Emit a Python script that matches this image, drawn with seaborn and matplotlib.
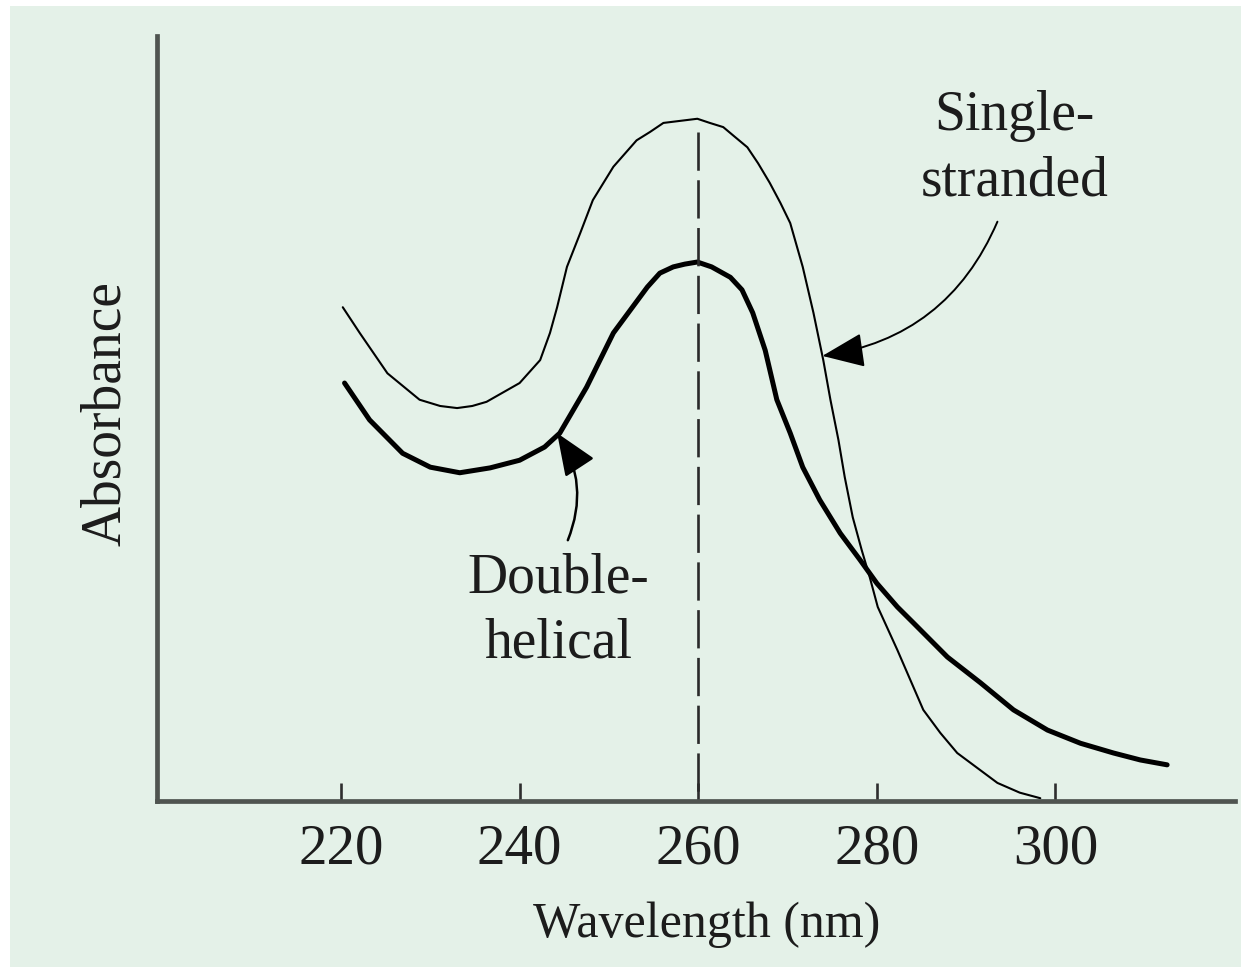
import numpy as np
import pandas as pd
import matplotlib
matplotlib.use('Agg')
import matplotlib.pyplot as plt
import seaborn as sns
from matplotlib.patches import Rectangle, ArrowStyle


# values (arbitrary absorbance units)
wavelength_ss = [220.2, 222.1, 225.2, 228.8, 231.1, 233.0, 234.7, 236.3, 240.0, 242.3,
                 243.4, 244.2, 245.3, 246.8, 248.2, 250.5, 253.1, 254.6, 256.1, 258.0,
                 259.9, 261.3, 262.8, 264.1, 265.5, 266.7, 268.0, 269.2, 270.3, 271.7,
                 272.9, 274.0, 274.8, 275.7, 276.4, 277.3, 278.3, 279.2, 280.1, 282.3,
                 285.2, 287.1, 289.0, 293.5, 296.0, 298.3]
absorb_ss = [0.710, 0.673, 0.615, 0.577, 0.568, 0.565, 0.568, 0.574, 0.601, 0.634,
             0.673, 0.710, 0.768, 0.817, 0.864, 0.912, 0.950, 0.962, 0.975, 0.978,
             0.981, 0.975, 0.969, 0.955, 0.940, 0.917, 0.889, 0.860, 0.831, 0.768,
             0.702, 0.634, 0.577, 0.519, 0.466, 0.408, 0.361, 0.322, 0.279, 0.217,
             0.131, 0.098, 0.069, 0.026, 0.012, 0.004]

wavelength_ds = [220.4, 223.2, 226.9, 230.0, 233.3, 236.7, 240.0, 242.8, 244.5, 247.5,
                 250.5, 254.3, 255.7, 257.2, 258.5, 259.9, 261.5, 263.6, 264.9, 266.1,
                 267.5, 268.8, 270.3, 271.7, 273.6, 275.9, 278.1, 280.0, 282.3, 284.1,
                 287.9, 291.6, 295.3, 299.1, 302.8, 306.5, 309.5, 312.5]
absorb_ds = [0.601, 0.548, 0.500, 0.480, 0.472, 0.479, 0.490, 0.509, 0.529, 0.595,
             0.673, 0.739, 0.759, 0.768, 0.772, 0.775, 0.768, 0.753, 0.735, 0.702,
             0.648, 0.577, 0.529, 0.480, 0.433, 0.385, 0.347, 0.313, 0.279, 0.256,
             0.207, 0.170, 0.131, 0.102, 0.083, 0.069, 0.059, 0.052]

peak_nm = 260
peak_top = 0.962
xticks = [220, 240, 260, 280, 300]

bg = '#e4f1e8'
ink = '#1c1c1c'

sns.set_theme(style='ticks')
plt.rcParams['font.family'] = ['Liberation Serif', 'DejaVu Serif']

fig = plt.figure(figsize=(12.41, 9.67), dpi=100)
fig.patch.set_facecolor('white')
fig.add_artist(Rectangle((10 / 1241, 0), 1, 961 / 967, transform=fig.transFigure,
                         facecolor=bg, edgecolor='none', zorder=0))

ax = fig.add_axes([157 / 1241, (967 - 801) / 967, 1078 / 1241, 765 / 967])
ax.set_facecolor('none')

ss = pd.DataFrame({'wavelength': wavelength_ss, 'absorbance': absorb_ss})
ds = pd.DataFrame({'wavelength': wavelength_ds, 'absorbance': absorb_ds})

sns.lineplot(data=ss, x='wavelength', y='absorbance', color='black', linewidth=1.5,
             ax=ax, solid_capstyle='round', solid_joinstyle='round')
sns.lineplot(data=ds, x='wavelength', y='absorbance', color='black', linewidth=3.6,
             ax=ax, solid_capstyle='round', solid_joinstyle='round')

# dashed marker at the 260 nm maximum
ax.plot([peak_nm, peak_nm], [peak_top, 0], color='#2a2a2a', linewidth=1.9,
        dashes=(14.5, 3.6))

ax.set_xlim(199.4, 320.1)
ax.set_ylim(0, 1.1)
ax.set_xticks(xticks)
ax.set_xticklabels([str(t) for t in xticks])
ax.set_yticks([])

for side in ['top', 'right']:
    ax.spines[side].set_visible(False)
for side in ['left', 'bottom']:
    ax.spines[side].set_linewidth(3.4)
    ax.spines[side].set_color('#4f5450')

ax.tick_params(axis='x', direction='in', length=13, width=1.9, color='#2e2e2e',
               pad=16, labelsize=41, labelcolor=ink)

ax.set_xlabel('Wavelength (nm)', fontsize=36, color=ink)
ax.xaxis.set_label_coords(0.51, -0.131)
ax.set_ylabel('Absorbance', fontsize=40, color=ink)
ax.yaxis.set_label_coords(-0.023, 0.507)

# curve labels (y is the baseline of the last line)
ax.text(295.4, 0.871, 'Single-\nstranded', fontsize=40, color=ink, ha='center',
        va='baseline', linespacing=1.32, multialignment='center')
ax.text(244.3, 0.206, 'Double-\nhelical', fontsize=40, color=ink, ha='center',
        va='baseline', linespacing=1.34, multialignment='center')

# curved arrows pointing at the curves
head = ArrowStyle('-|>', head_length=2.2, head_width=0.9)
ax.annotate('', xy=(273.9, 0.640), xytext=(293.5, 0.833), annotation_clip=False,
            arrowprops=dict(arrowstyle=head, mutation_scale=12,
                            connectionstyle='arc3,rad=-0.28',
                            color='black', lw=1.4, shrinkA=0, shrinkB=0))
ax.annotate('', xy=(244.2, 0.529), xytext=(245.4, 0.375), annotation_clip=False,
            arrowprops=dict(arrowstyle=head, mutation_scale=12,
                            connectionstyle='arc3,rad=0.26',
                            color='black', lw=1.8, shrinkA=0, shrinkB=0))

plt.savefig('out.png', dpi=100, facecolor=fig.get_facecolor())
